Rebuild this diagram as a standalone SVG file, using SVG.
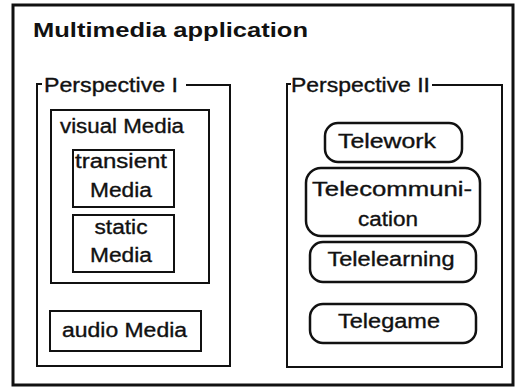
<svg xmlns="http://www.w3.org/2000/svg" width="526" height="388" viewBox="0 0 526 388">
<style>
text{font-family:"Liberation Sans",Arial,Helvetica,sans-serif;fill:#111;}
.t{font-size:20px;stroke:#111;stroke-width:0.35;}
.title{font-size:21px;font-weight:bold;}
.box{fill:none;stroke:#111;stroke-width:2;}
.frame{fill:none;stroke:#111;stroke-width:3;}
.pill{fill:none;stroke:#111;stroke-width:2.5;}
</style>
<rect x="0" y="0" width="526" height="388" fill="#fff"/>
<g id="app">
<rect class="frame" x="13" y="5" width="500" height="380"/>
<text class="title" x="33" y="37" textLength="275" lengthAdjust="spacingAndGlyphs">Multimedia application</text>
</g>
<g id="perspective1">
<path class="box" d="M42 84 H37 V366 H230 V85 H186"/>
<text class="t" x="44" y="92" textLength="134" lengthAdjust="spacingAndGlyphs">Perspective I</text>
</g>
<g id="visual-media">
<rect class="box" x="51" y="110" width="158" height="173"/>
<text class="t" x="60" y="133" textLength="124" lengthAdjust="spacingAndGlyphs">visual Media</text>
</g>
<g id="transient-media">
<rect class="box" x="73" y="150" width="101" height="57" stroke-width="2.5"/>
<text class="t" x="121" y="168" text-anchor="middle" textLength="92" lengthAdjust="spacingAndGlyphs">transient</text>
<text class="t" x="121" y="197" text-anchor="middle" textLength="62" lengthAdjust="spacingAndGlyphs">Media</text>
</g>
<g id="static-media">
<rect class="box" x="73" y="215" width="101" height="57" stroke-width="2.5"/>
<text class="t" x="121" y="234" text-anchor="middle" textLength="53" lengthAdjust="spacingAndGlyphs">static</text>
<text class="t" x="121" y="262" text-anchor="middle" textLength="62" lengthAdjust="spacingAndGlyphs">Media</text>
</g>
<g id="audio-media">
<rect class="box" x="50" y="311" width="151" height="40"/>
<text class="t" x="62" y="337" textLength="125" lengthAdjust="spacingAndGlyphs">audio Media</text>
</g>
<g id="perspective2">
<path class="box" d="M291 84 H287 V367 H502 V85 H432"/>
<text class="t" x="291" y="92" textLength="139" lengthAdjust="spacingAndGlyphs">Perspective II</text>
</g>
<g id="telework">
<rect class="pill" x="325" y="123" width="137" height="39" rx="13"/>
<text class="t" x="387" y="148" text-anchor="middle" textLength="98" lengthAdjust="spacingAndGlyphs">Telework</text>
</g>
<g id="telecommunication">
<rect class="pill" x="306" y="168" width="174" height="68" rx="15"/>
<text class="t" x="392" y="196" text-anchor="middle" textLength="160" lengthAdjust="spacingAndGlyphs">Telecommuni-</text>
<text class="t" x="388" y="226" text-anchor="middle" textLength="60" lengthAdjust="spacingAndGlyphs">cation</text>
</g>
<g id="telelearning">
<rect class="pill" x="310" y="242" width="166" height="40" rx="13"/>
<text class="t" x="391" y="266" text-anchor="middle" textLength="127" lengthAdjust="spacingAndGlyphs">Telelearning</text>
</g>
<g id="telegame">
<rect class="pill" x="310" y="304" width="166" height="39" rx="13"/>
<text class="t" x="389" y="328" text-anchor="middle" textLength="102" lengthAdjust="spacingAndGlyphs">Telegame</text>
</g>
<g id="connectors"></g>
</svg>
